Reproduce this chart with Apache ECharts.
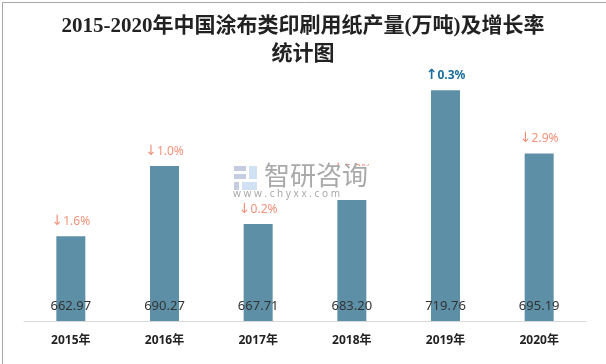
<!DOCTYPE html>
<html><head><meta charset="utf-8">
<script src="https://cdn.jsdelivr.net/npm/echarts@6/dist/echarts.min.js"></script>
<style>html,body{margin:0;padding:0;background:#fff}#c{width:606px;height:364px}</style>
</head><body><div id="c"></div>
<script>
const categories = ['2015年','2016年','2017年','2018年','2019年','2020年'];
const production = [662.97, 690.27, 667.71, 683.20, 719.76, 695.19];
const growthText = ['1.6%','1.0%','0.2%','5.8%','0.3%','2.9%'];
const growthDir = ['down','down','down','down','up','down'];

const chart = echarts.init(document.getElementById('c'));
const data = production.map((v, i) => ({
  value: v,
  label: {
    show: true, position: 'top', distance: 8,
    formatter: growthDir[i] === 'up' ? '{ua|↑}{u|' + growthText[i] + '}' : '{da|↓}{d|' + growthText[i] + '}',
    rich: {
      ua: {color: '#1a6e9c', fontSize: 14, fontWeight: 'bold', fontFamily: "'DejaVu Sans'"},
      u: {color: '#1a6e9c', fontSize: 12, fontWeight: 'bold', fontFamily: 'Noto Sans'},
      da: {color: '#f0927a', fontSize: 14, fontFamily: "'DejaVu Sans'"},
      d: {color: '#f0927a', fontSize: 12, fontFamily: 'Noto Sans'}
    }
  }
}));

const wm = (o) => Object.assign({z: 100, silent: true}, o);

chart.setOption({
  animation: false,
  title: {
    text: '2015-2020年中国涂布类印刷用纸产量(万吨)及增长率\n统计图',
    left: 'center', top: 8,
    textStyle: {fontSize: 21, fontWeight: 'bold', color: '#222', lineHeight: 28,
      fontFamily: "'Liberation Serif','Noto Sans CJK SC'"}
  },
  grid: {left: 24, right: 20, top: 64, bottom: 43},
  xAxis: {
    type: 'category', data: categories,
    axisLine: {lineStyle: {color: '#d9d9d9', width: 1}},
    axisTick: {show: false},
    axisLabel: {color: '#222', fontSize: 12, fontWeight: 'bold', margin: 14, fontFamily: "'Noto Sans','Noto Sans CJK SC'"}
  },
  yAxis: {type: 'value', min: 630, max: 730, show: false, splitLine: {show: false}},
  series: [
    {
      type: 'bar', data: data, barWidth: 29,
      itemStyle: {color: '#5d90a7'},
      z: 2
    },
    {
      type: 'bar', data: production, barWidth: 29, barGap: '-100%',
      itemStyle: {color: 'transparent'},
      label: {show: true, position: 'insideBottom', distance: 8, color: '#333', fontSize: 13,
        fontFamily: "'Noto Sans'", formatter: p => p.value.toFixed(2)},
      z: 3, silent: true
    }
  ],
  graphic: [
    {type: 'rect', left: 0, top: 0, z: 100, shape: {width: 605, height: 363},
      style: {fill: 'none', stroke: '#a8a8a8', lineWidth: 1}},
    wm({type: 'rect', shape: {x: 232, y: 166, width: 144, height: 34}, style: {fill: '#fff'}}),
    wm({type: 'rect', shape: {x: 234, y: 166, width: 12, height: 5}, style: {fill: '#c4cde0'}}),
    wm({type: 'rect', shape: {x: 234, y: 174, width: 12, height: 5}, style: {fill: '#c4cde0'}}),
    wm({type: 'rect', shape: {x: 234, y: 182, width: 5, height: 8}, style: {fill: '#c4cde0'}}),
    wm({type: 'rect', shape: {x: 242, y: 182, width: 15, height: 8}, style: {fill: '#cfe1f2'}}),
    wm({type: 'rect', shape: {x: 249, y: 166, width: 8, height: 13}, style: {fill: '#cfe1f2'}}),
    wm({type: 'text', style: {x: 264, y: 162, text: '智研咨询', fill: '#a9a9a9', fontSize: 26,
      fontFamily: "'Noto Sans CJK SC'"}}),
    wm({type: 'text', style: {x: 233, y: 189, text: 'w w w . c h y x x . c o m', fill: '#a9a9a9', fontSize: 10,
      fontFamily: "'Noto Sans'"}})
  ]
});
</script></body></html>
